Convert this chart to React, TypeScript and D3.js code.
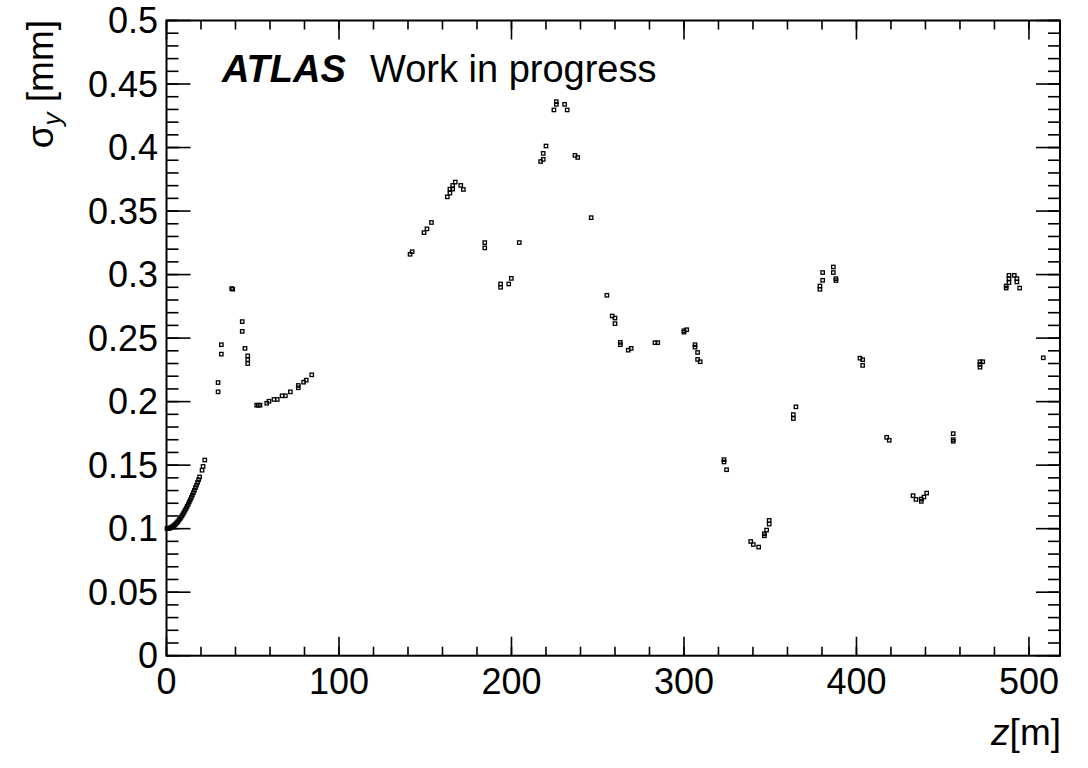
import React from "react";
import * as d3 from "d3";

// ---- data ----
const zPositions: number[] = [
  0.3, 0.8, 1.3, 1.8, 2.4, 3.0, 3.6, 4.2, 4.8, 5.4, 6.0, 6.6, 7.2, 7.8, 8.4, 9.0, 9.6, 10.2, 10.8, 11.4,
  12.0, 12.6, 13.2, 13.8, 14.4, 15.0, 15.6, 16.2, 16.8, 17.4, 18.0, 18.6, 19.2, 20.6, 21.2, 22.2,
  29.9, 29.9, 31.8, 31.8, 37.8, 38.4, 43.9, 43.9, 45.5, 47.1, 47.1, 47.1,
  52.3, 53.2, 54.2, 58.1, 59.4, 62.3, 64.2, 67.0, 68.9, 71.8, 76.4, 76.4, 79.5, 81.0, 84.2,
  141.2, 142.4, 149.3, 151.0, 153.6,
  162.8, 164.3, 164.3, 165.9, 165.9, 167.4, 170.6, 172.1,
  184.5, 184.5, 193.7, 193.7, 198.4, 199.9, 204.5,
  216.9, 218.4, 218.4, 220.0, 224.6, 226.0, 226.0, 230.8, 232.3, 236.8, 238.4, 246.2,
  255.3, 258.4, 260.0, 260.0, 263.1, 263.1, 267.7, 269.4, 283.2, 284.8, 300.0, 301.6, 300.0, 306.4, 306.4, 307.9, 307.9, 309.4,
  323.2, 323.2, 324.7,
  338.7, 340.2, 343.3, 346.6, 346.6, 347.9, 349.4, 349.4,
  363.4, 363.4, 364.9,
  378.8, 378.8, 380.4, 380.4, 386.6, 386.6, 388.1, 388.1,
  402.0, 403.6, 403.6,
  417.5, 419.0,
  432.8, 434.5, 437.6, 437.6, 439.1, 440.7,
  456.1, 456.1, 456.1,
  471.6, 473.2, 471.6, 471.6,
  486.8, 486.8, 488.4, 488.4, 488.4, 491.5, 493.0, 493.0, 494.6,
  508.3,
];

const sigmaY: number[] = [
  0.1, 0.1001, 0.1002, 0.1004, 0.1008, 0.1012, 0.1017, 0.1023, 0.103, 0.1038, 0.1047, 0.1056, 0.1067, 0.1078, 0.109, 0.1102, 0.1116, 0.113, 0.1145, 0.116,
  0.1176, 0.1192, 0.121, 0.1227, 0.1245, 0.1264, 0.1283, 0.1303, 0.1323, 0.1343, 0.1364, 0.1385, 0.1407, 0.146, 0.149, 0.154,
  0.215, 0.2077, 0.2448, 0.2374, 0.289, 0.2885, 0.263, 0.2553, 0.2419, 0.236, 0.233, 0.23,
  0.1972, 0.1972, 0.1972, 0.1987, 0.2003, 0.2017, 0.2017, 0.2046, 0.2046, 0.2077, 0.2109, 0.2127, 0.2153, 0.2169, 0.2211,
  0.316, 0.318, 0.333, 0.336, 0.341,
  0.3612, 0.3641, 0.3673, 0.3673, 0.3702, 0.3728, 0.3702, 0.367,
  0.3252, 0.321, 0.2926, 0.29, 0.2926, 0.297, 0.3252,
  0.389, 0.3907, 0.3954, 0.4012, 0.4296, 0.434, 0.4361, 0.434, 0.4296, 0.3938, 0.3922, 0.3448,
  0.2837, 0.2674, 0.2658, 0.2614, 0.2466, 0.2448, 0.2405, 0.2419, 0.2464, 0.2464, 0.2558, 0.2566, 0.2547, 0.2448, 0.2429, 0.2387, 0.2332, 0.2314,
  0.1543, 0.1525, 0.1464,
  0.0899, 0.0875, 0.0855, 0.096, 0.0944, 0.0989, 0.1036, 0.1065,
  0.1867, 0.1898, 0.1959,
  0.2884, 0.291, 0.2955, 0.3016, 0.3016, 0.306, 0.2953, 0.2968,
  0.2342, 0.233, 0.2285,
  0.1719, 0.1696,
  0.126, 0.123, 0.1215, 0.1233, 0.1249, 0.128,
  0.1748, 0.1701, 0.1688,
  0.2314, 0.2314, 0.2293, 0.2271,
  0.2894, 0.291, 0.2937, 0.2968, 0.2994, 0.2994, 0.2968, 0.2942, 0.2894,
  0.2345,
];

const xTickValues: number[] = [0, 100, 200, 300, 400, 500];
const xTickLabels: string[] = ["0", "100", "200", "300", "400", "500"];
const yTickValues: number[] = [0, 0.05, 0.1, 0.15, 0.2, 0.25, 0.3, 0.35, 0.4, 0.45, 0.5];
const yTickLabels: string[] = ["0", "0.05", "0.1", "0.15", "0.2", "0.25", "0.3", "0.35", "0.4", "0.45", "0.5"];
const xDomain: [number, number] = [0, 518];
const yDomain: [number, number] = [0, 0.5];

const W = 1088;
const H = 768;
const L = 166.5;
const R = 1060;
const T = 20.5;
const B = 655.7;
const FONT = "'Liberation Sans', Arial, Helvetica, sans-serif";

export default function App() {
  const x = d3.scaleLinear().domain(xDomain).range([L, R]);
  const y = d3.scaleLinear().domain(yDomain).range([B, T]);

  const xMinor = d3.range(0, xDomain[1] + 0.001, 20);
  const yMinor = d3.range(0, 50.001, 1).map((v) => v / 100);

  const points = zPositions.map((z, i) => ({ z, s: sigmaY[i] }));

  return (
    <svg
      width={W}
      height={H}
      viewBox={`0 0 ${W} ${H}`}
      style={{ position: "absolute", left: 0, top: 0, background: "#fff" }}
    >
      <rect x={0} y={0} width={W} height={H} fill="#fff" />
      <g stroke="#000" strokeWidth={1.6}>
        {xMinor.map((v, i) => (
          <g key={"xm" + i}>
            <line x1={x(v)} x2={x(v)} y1={B} y2={B - 9} />
            <line x1={x(v)} x2={x(v)} y1={T} y2={T + 9} />
          </g>
        ))}
        {xTickValues.map((v, i) => (
          <g key={"xM" + i}>
            <line x1={x(v)} x2={x(v)} y1={B} y2={B - 19} />
            <line x1={x(v)} x2={x(v)} y1={T} y2={T + 19} />
          </g>
        ))}
        {yMinor.map((v, i) => (
          <g key={"ym" + i}>
            <line x1={L} x2={L + 12} y1={y(v)} y2={y(v)} />
            <line x1={R} x2={R - 12} y1={y(v)} y2={y(v)} />
          </g>
        ))}
        {yTickValues.map((v, i) => (
          <g key={"yM" + i}>
            <line x1={L} x2={L + 24} y1={y(v)} y2={y(v)} />
            <line x1={R} x2={R - 24} y1={y(v)} y2={y(v)} />
          </g>
        ))}
      </g>
      <rect x={L} y={T} width={R - L} height={B - T} fill="none" stroke="#000" strokeWidth={2} />

      <g fontFamily={FONT} fontSize={36} fill="#000">
        {xTickValues.map((v, i) => (
          <text key={"xl" + i} x={x(v)} y={694} textAnchor="middle">
            {xTickLabels[i]}
          </text>
        ))}
        {yTickValues.map((v, i) => (
          <text key={"yl" + i} x={158} y={y(v) + 12.5} textAnchor="end">
            {yTickLabels[i]}
          </text>
        ))}
      </g>

      <text
        fontFamily={FONT}
        fontSize={37}
        textAnchor="end"
        transform={`translate(53,20) rotate(-90)`}
      >
        <tspan>σ</tspan>
        <tspan fontSize={26} fontStyle="italic" dy={8}>y</tspan>
        <tspan dy={-8}> [mm]</tspan>
      </text>
      <text fontFamily={FONT} fontSize={37} x={1061} y={745} textAnchor="end">
        <tspan fontStyle="italic">z</tspan>
        <tspan>[m]</tspan>
      </text>

      <text fontFamily={FONT} fontSize={38} x={222} y={82}>
        <tspan fontWeight="bold" fontStyle="italic">ATLAS</tspan>
        <tspan x={370}>Work in progress</tspan>
      </text>

      <g fill="none" stroke="#000" strokeWidth={1.3}>
        {points.map((p, i) => (
          <rect key={"p" + i} x={x(p.z) - 1.7} y={y(p.s) - 1.7} width={3.4} height={3.4} />
        ))}
      </g>
    </svg>
  );
}
